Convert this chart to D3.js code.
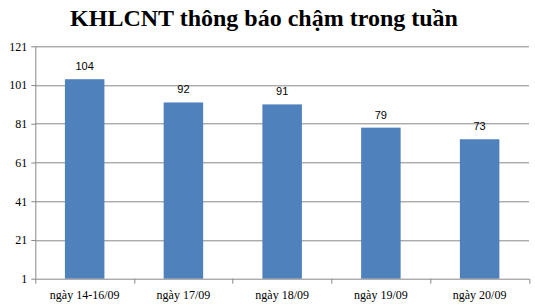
<!DOCTYPE html>
<html>
<head>
<meta charset="utf-8">
<script src="https://cdn.jsdelivr.net/npm/d3@7"></script>
<style>
  body { margin: 0; background: #fff; }
  .tick text { font-family: "Liberation Serif", "Times New Roman", serif; font-size: 12px; fill: #000; }
</style>
</head>
<body>
<div id="viz"></div>
<script>
// chart data
var categories = ["ngày 14-16/09", "ngày 17/09", "ngày 18/09", "ngày 19/09", "ngày 20/09"];
var values = [104, 92, 91, 79, 73];
var yTicks = [1, 21, 41, 61, 81, 101, 121];
var title = "KHLCNT thông báo chậm trong tuần";

var width = 535,
    height = 307;

var margin = { top: 46.3, right: 6, bottom: 28.3, left: 35.3 };
var innerW = width - margin.left - margin.right,
    innerH = height - margin.top - margin.bottom;

var svg = d3.select("#viz")
  .append("svg")
  .attr("width", width)
  .attr("height", height);

// title
svg.append("text")
  .attr("x", 264)
  .attr("y", 26)
  .attr("text-anchor", "middle")
  .style("font-family", "'Liberation Serif', 'Times New Roman', serif")
  .style("font-weight", "bold")
  .style("font-size", "24px")
  .text(title);

var g = svg.append("g")
  .attr("transform", "translate(" + margin.left + "," + margin.top + ")");

var x = d3.scaleBand()
  .domain(categories)
  .range([0, innerW])
  .paddingInner(0.6)
  .paddingOuter(0.3);

var y = d3.scaleLinear()
  .domain([1, 121])
  .range([innerH, 0]);

// gridlines
g.selectAll(".grid")
  .data(yTicks.slice(1))
  .enter()
  .append("line")
  .attr("class", "grid")
  .attr("x1", 0)
  .attr("x2", innerW)
  .attr("y1", function(d) { return Math.round(y(d)) + 0.5; })
  .attr("y2", function(d) { return Math.round(y(d)) + 0.5; })
  .attr("stroke", "#888")
  .attr("stroke-width", 1);

// y axis
var yAxis = g.append("g")
  .call(d3.axisLeft(y).tickValues(yTicks).tickSize(4).tickPadding(4).tickFormat(d3.format("d")));
yAxis.selectAll("path, line").attr("stroke", "#888");
yAxis.select(".domain").attr("d", "M0.5," + y(121) + "V" + innerH);

// bars
g.selectAll(".bar")
  .data(values)
  .enter()
  .append("rect")
  .attr("class", "bar")
  .attr("x", function(d, i) { return x(categories[i]); })
  .attr("width", x.bandwidth())
  .attr("y", function(d) { return y(d); })
  .attr("height", function(d) { return innerH - y(d); })
  .attr("fill", "#4f81bd");

// value labels
g.selectAll(".label")
  .data(values)
  .enter()
  .append("text")
  .attr("class", "label")
  .attr("x", function(d, i) { return x(categories[i]) + x.bandwidth() / 2; })
  .attr("y", function(d) { return y(d) - 9; })
  .attr("text-anchor", "middle")
  .style("font-family", "'Liberation Sans', Arial, sans-serif")
  .style("font-size", "11px")
  .text(function(d) { return d; });

// x axis with ticks at category boundaries
var boundaries = d3.range(categories.length + 1).map(function(i) { return i * x.step(); });
var xAxis = g.append("g")
  .attr("transform", "translate(0," + innerH + ")");
xAxis.append("line")
  .attr("x1", 0).attr("x2", innerW)
  .attr("y1", 0.5).attr("y2", 0.5)
  .attr("stroke", "#888");
xAxis.selectAll(".xtick")
  .data(boundaries)
  .enter()
  .append("line")
  .attr("x1", function(d) { return Math.round(d) + 0.5; })
  .attr("x2", function(d) { return Math.round(d) + 0.5; })
  .attr("y1", 0).attr("y2", 5)
  .attr("stroke", "#888");
xAxis.selectAll(".xlabel")
  .data(categories)
  .enter()
  .append("text")
  .attr("x", function(d) { return x(d) + x.bandwidth() / 2; })
  .attr("y", 20)
  .attr("text-anchor", "middle")
  .style("font-family", "'Liberation Serif', 'Times New Roman', serif")
  .style("font-size", "12px")
  .text(function(d) { return d; });
</script>
</body>
</html>
